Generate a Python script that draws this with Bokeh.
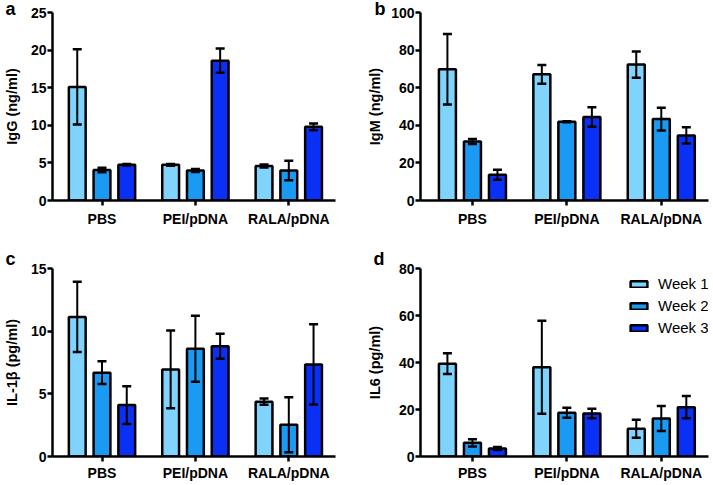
from bokeh.plotting import figure
from bokeh.layouts import column, row
from bokeh.models import (ColumnDataSource, Whisker, TeeHead, Legend, LegendItem,
                          Range1d, FixedTicker)
from bokeh.embed import file_html
from bokeh.resources import INLINE

groups = ["PBS", "PEI/pDNA", "RALA/pDNA"]
weeks = ["Week 1", "Week 2", "Week 3"]
colors = ["#7FD3FD", "#1A9AF2", "#0A30F5"]

# panel a: IgG (ng/ml)
igg_mean = [[15.1, 4.75, 4.6], [4.05, 4.0, 4.0], [4.75, 18.6, 9.8]]
igg_err = [[5.0, 0.12, 0.2], [0.3, 0.2, 1.3], [0.1, 1.6, 0.45]]
# panel b: IgM (ng/ml)
igm_mean = [[69.8, 67.1, 72.3], [31.4, 41.9, 43.3], [13.7, 44.4, 34.6]]
igm_err = [[18.7, 5.0, 7.0], [1.3, 0.3, 6.0], [2.7, 5.2, 4.3]]
# panel c: IL-1b (pg/ml)
il1b_mean = [[11.14, 6.95, 4.37], [6.69, 8.6, 2.53], [4.1, 8.8, 7.35]]
il1b_err = [[2.8, 3.1, 0.25], [0.9, 2.64, 2.2], [1.5, 1.0, 3.2]]
# panel d: IL6 (pg/ml)
il6_mean = [[39.5, 38.0, 11.8], [5.8, 18.6, 16.2], [3.4, 18.3, 21.0]]
il6_err = [[4.4, 19.8, 3.8], [1.5, 2.1, 5.3], [0.6, 2.0, 4.7]]

FONT = "Liberation Sans"
BAR_W = 0.18
OFFSETS = [-0.265, 0.0, 0.265]
XEND = 3.5


def make_panel(means, errs, ymax, yticks, ylabel, letter, width, height,
               bl, br, bt, bb, xstart, label_standoff, xlab_standoff,
               letter_offset, letter_standoff, legend=False):
    p = figure(width=width, height=height, output_backend="svg", toolbar_location=None,
               x_range=Range1d(xstart, XEND), y_range=Range1d(0, ymax),
               min_border_left=bl, min_border_right=br, min_border_top=bt,
               min_border_bottom=bb)
    p.outline_line_color = None
    p.grid.visible = False
    p.background_fill_color = "white"
    renderers = []
    for w in range(3):
        xs = [g + 1 + OFFSETS[w] for g in range(3)]
        src = ColumnDataSource(dict(
            x=xs, top=means[w],
            upper=[m + e for m, e in zip(means[w], errs[w])],
            lower=[m - e for m, e in zip(means[w], errs[w])]))
        r = p.vbar(x="x", top="top", width=BAR_W, bottom=0, source=src,
                   fill_color=colors[w], line_color="black", line_width=2.5)
        renderers.append(r)
        wh = Whisker(base="x", upper="upper", lower="lower", source=src,
                     dimension="height", line_color="black", line_width=2,
                     level="annotation",
                     upper_head=TeeHead(size=9, line_width=2.5, line_color="black"),
                     lower_head=TeeHead(size=9, line_width=2.5, line_color="black"))
        p.add_layout(wh)
    # axes
    p.xaxis.ticker = FixedTicker(ticks=[1, 2, 3])
    p.xaxis.major_label_overrides = {1: groups[0], 2: groups[1], 3: groups[2]}
    p.yaxis.ticker = FixedTicker(ticks=yticks)
    for ax in (p.xaxis, p.yaxis):
        ax.axis_line_width = 2.5
        ax.axis_line_color = "black"
        ax.major_tick_line_width = 2.5
        ax.major_tick_line_color = "black"
        ax.major_tick_out = 5
        ax.major_tick_in = 0
        ax.minor_tick_line_color = None
        ax.major_label_text_font = FONT
        ax.major_label_text_font_style = "bold"
        ax.major_label_text_color = "black"
    p.xaxis.major_label_text_font_size = "14px"
    p.yaxis.major_label_text_font_size = "14px"
    p.xaxis.major_label_standoff = xlab_standoff
    p.yaxis.major_label_standoff = 1
    p.yaxis.axis_label = ylabel
    p.yaxis.axis_label_text_font = FONT
    p.yaxis.axis_label_text_font_style = "bold"
    p.yaxis.axis_label_text_font_size = "14.5px"
    p.yaxis.axis_label_text_color = "black"
    p.yaxis.axis_label_standoff = label_standoff
    # panel letter as the figure title, pulled left of the frame
    p.title.text = letter
    p.title.align = "left"
    p.title.offset = letter_offset
    p.title.standoff = letter_standoff
    p.title.text_font = FONT
    p.title.text_font_style = "bold"
    p.title.text_font_size = "18px"
    p.title.text_color = "black"
    if legend:
        items = [LegendItem(label=weeks[i], renderers=[renderers[i]]) for i in range(3)]
        lg = Legend(items=items, location=(208, 119), padding=0, margin=0,
                    border_line_color=None, background_fill_alpha=0,
                    glyph_width=21, glyph_height=8, label_height=19, spacing=3,
                    label_standoff=9, label_text_font=FONT, label_text_font_size="15px",
                    label_text_color="black")
        p.add_layout(lg, "center")
    return p


pa = make_panel(igg_mean, igg_err, 25, [0, 5, 10, 15, 20, 25], "IgG (ng/ml)", "a",
                356, 240, 50, 21, 12, 40, 0.47, 8, 5, -47, -13)
pb = make_panel(igm_mean, igm_err, 100, [0, 20, 40, 60, 80, 100], "IgM (ng/ml)", "b",
                357, 240, 64, 5, 12, 40, 0.45, 5, 5, -46, -13)
pc = make_panel(il1b_mean, il1b_err, 15, [0, 5, 10, 15], "IL-1β (pg/ml)", "c",
                356, 245, 50, 21, 28, 29, 0.47, 8, 3, -47, -1)
pd = make_panel(il6_mean, il6_err, 80, [0, 20, 40, 60, 80], "IL6 (pg/ml)", "d",
                357, 245, 64, 5, 28, 29, 0.45, 13, 3, -47, -1, legend=True)

layout = column(row(pa, pb), row(pc, pd))
open("out.html", "w").write(file_html(layout, INLINE))
